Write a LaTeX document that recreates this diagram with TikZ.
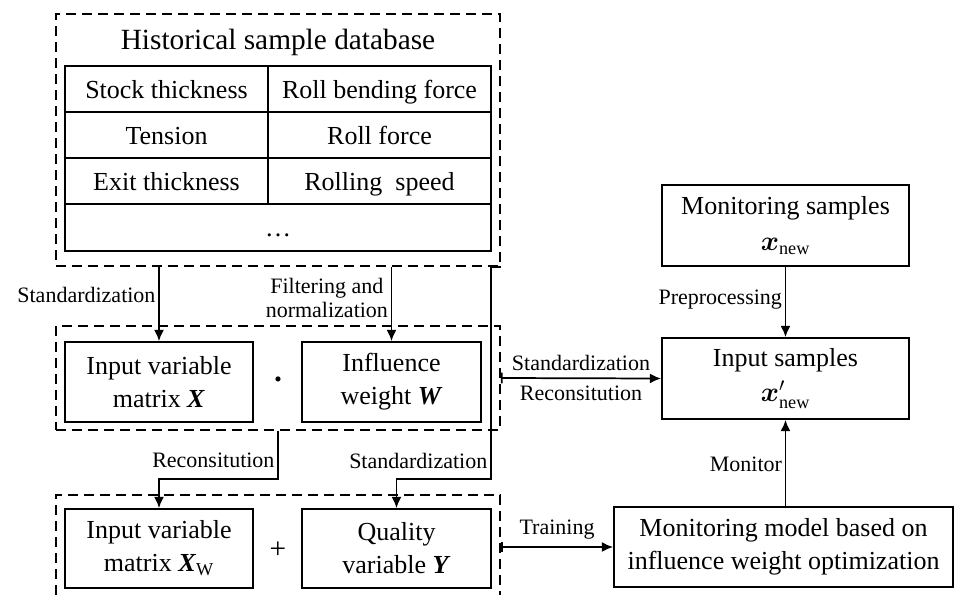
\documentclass[tikz,border=0pt]{standalone}
\usepackage{fontspec}
\setmainfont{Liberation Serif}
\usepackage{amsmath}
\usepackage{bm}
\usetikzlibrary{arrows.meta}

\begin{document}
\begin{tikzpicture}[x=0.75pt, y=-0.75pt,
    grp/.style={draw, dash pattern=on 7.5pt off 4.5pt, line width=1.3pt, minimum width=333pt, inner sep=0pt},
    blk/.style={draw, line width=1.3pt, align=center, inner sep=0pt, font=\fontsize{19.5}{24.75}\selectfont},
    cell/.style={draw, line width=1pt, minimum height=34.5pt, inner sep=0pt, text height=17pt, text depth=3.5pt, font=\fontsize{19.5}{23}\selectfont},
    lbl/.style={font=\fontsize{16.5}{17.5}\selectfont, align=center, inner sep=2pt},
    arr/.style={line width=1.3pt, -{Latex[length=8.5pt,width=7.5pt]}},
    barr/.style={line width=1.3pt, {Bar[width=8pt]}-{Latex[length=8.5pt,width=7.5pt]}}]
  \useasboundingbox (0,0) rectangle (954,594);

  % dashed groups
  \node[grp, minimum height=189pt] (topbox) at (278,140) {};
  \node[grp, minimum height=78pt] (midbox) at (278,378) {};
  \node[grp, minimum height=82.5pt] (botbox) at (278,550) {};

  % historical database
  \node[font=\fontsize{22}{26}\selectfont] (title) at (278,42) {Historical sample database};
  \node[cell, minimum width=152.25pt] (c11) at (166.5,89) {Stock thickness};
  \node[cell, minimum width=167.25pt] (c12) at (379.5,89) {Roll bending force};
  \node[cell, minimum width=152.25pt] (c21) at (166.5,135) {Tension};
  \node[cell, minimum width=167.25pt] (c22) at (379.5,135) {Roll force};
  \node[cell, minimum width=152.25pt] (c31) at (166.5,181) {Exit thickness};
  \node[cell, minimum width=167.25pt] (c32) at (379.5,181) {Rolling\ \ speed};
  \node[cell, minimum width=319.5pt, minimum height=35.25pt] (c41) at (278,227.5) {\dots};

  % matrices
  \node[blk, minimum width=141pt, minimum height=60pt] (xmat) at (159,382) {Input variable\\matrix \textbf{\textit{X}}};
  \node[blk, minimum width=134.25pt, minimum height=60pt] (wmat) at (391.5,382) {Influence\\weight \textbf{\textit{W}}};
  \node[font=\fontsize{16}{16}\selectfont] (dotop) at (278,382) {\textbullet};
  \node[blk, minimum width=141pt, minimum height=59.25pt] (xwmat) at (159,548.5) {Input variable\\matrix \textbf{\textit{X}}\textsubscript{W}};
  \node[blk, minimum width=141.75pt, minimum height=59.25pt] (ymat) at (396.5,548.5) {Quality\\variable \textbf{\textit{Y}}};
  \node[font=\fontsize{22}{22}\selectfont] (plusop) at (278,550) {+};

  % monitoring side
  \node[blk, minimum width=185.25pt, minimum height=60.75pt] (msamp) at (785.5,225.5) {Monitoring samples\\[2pt]$\bm{x}_{\mathrm{new}}$};
  \node[blk, minimum width=185.25pt, minimum height=60.75pt] (isamp) at (785.5,378.5) {Input samples\\[2pt]$\bm{x}'_{\mathrm{new}}$};
  \node[blk, minimum width=254.25pt, minimum height=60pt] (model) at (783.5,547) {Monitoring model based on\\influence weight optimization};

  % connectors
  \draw[arr] (topbox.south -| xmat.north) -- node[lbl, left, pos=0.38] {Standardization} (xmat.north);
  \draw[arr] (topbox.south -| wmat.north) -- node[lbl, left, pos=0.42] {Filtering and\\normalization} (wmat.north);
  \draw[arr] (midbox.south) -- node[lbl, left, pos=0.62] {Reconsitution} ++(0,48) -| (xwmat.north);
  \draw[arr] (topbox.south east) -- ++(-10,0) -- node[lbl, left, pos=0.915] {Standardization} ++(0,212) -| (ymat.north);
  \draw[barr] (midbox.east) -- node[lbl, above, inner sep=5pt] {Standardization} node[lbl, below, inner sep=5pt] {Reconsitution} (isamp.west);
  \draw[arr] (msamp) -- node[lbl, left, pos=0.47] {Preprocessing} (isamp);
  \draw[arr] (model.north -| isamp) -- node[lbl, left, pos=0.48] {Monitor} (isamp);
  \draw[barr] (botbox.east |- model.west) -- node[lbl, above, inner sep=5pt] {Training} (model.west);
\end{tikzpicture}
\end{document}
